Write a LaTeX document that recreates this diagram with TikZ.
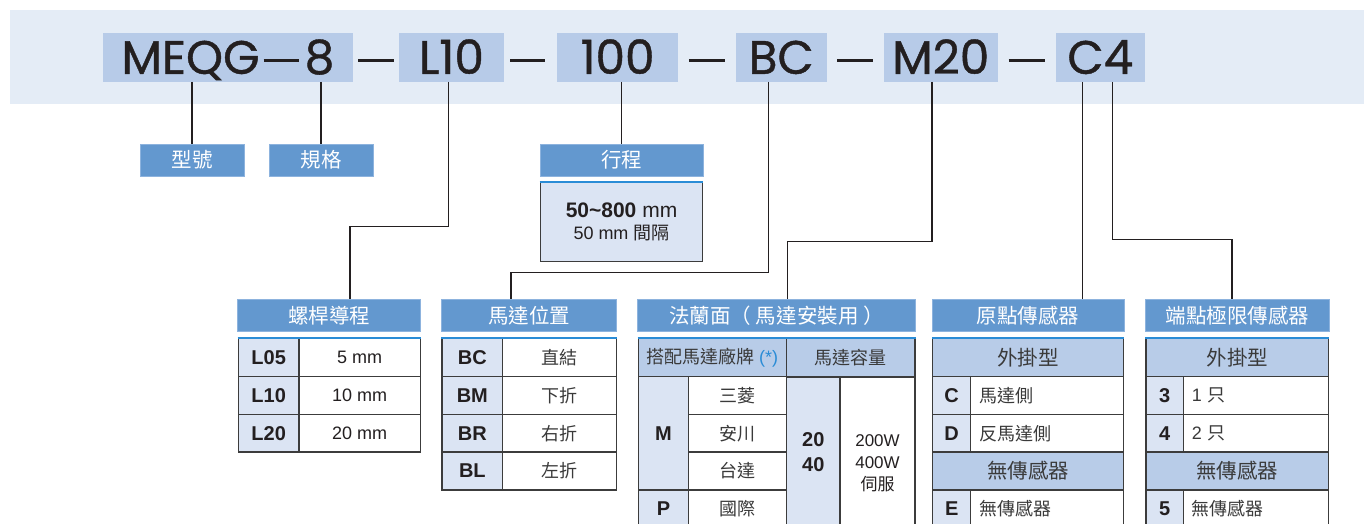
\documentclass[tikz,border=0pt]{standalone}
\usepackage{fontspec}
\setmainfont{Liberation Sans}
\newfontfamily\cjk{Noto Sans CJK TC}
\newfontfamily\partfont{Poppins}[FakeBold=0.9]
\usetikzlibrary{positioning}

\definecolor{bandbg}{HTML}{E4ECF6}
\definecolor{codeblue}{HTML}{B7CBE8}
\definecolor{headblue}{HTML}{6398CF}
\definecolor{headedge}{HTML}{8DB3DE}
\definecolor{keyfill}{HTML}{DBE4F3}
\definecolor{subfill}{HTML}{B8CCE8}
\definecolor{topblue}{HTML}{2A8CD6}
\definecolor{gridline}{HTML}{3C3C3C}
\definecolor{ink}{HTML}{231F20}
\definecolor{graytext}{HTML}{3A3A3A}

\begin{document}
\begin{tikzpicture}[x=1pt,y=-1pt,
  part/.style={fill=codeblue, minimum height=48.7pt, inner sep=0pt, text height=33pt, text depth=0pt, text=ink, font=\partfont\fontsize{47}{47}\selectfont},
  sep/.style={ink, line width=3.6pt},
  head/.style={fill=headblue, draw=headedge, line width=0.6pt, minimum height=32pt, inner sep=0pt, text=white, font=\cjk\fontsize{20.5}{22}\selectfont},
  link/.style={ink, line width=1.2pt},
  cell/.style={draw=gridline, line width=1.3pt, minimum height=37.8pt, inner sep=0pt},
  key/.style={cell, fill=keyfill, text=ink, font=\bfseries\fontsize{20}{22}\selectfont},
  val/.style={cell, fill=white, text=ink, font=\fontsize{18}{20}\selectfont},
  cjkval/.style={cell, fill=white, text=graytext, font=\cjk\fontsize{18}{20}\selectfont},
  leftval/.style={val, inner xsep=8.5pt, align=left},
  sub/.style={cell, fill=subfill, text=graytext, font=\cjk\fontsize{20.5}{22}\selectfont},
  topline/.style={topblue, line width=1.6pt}
]

\useasboundingbox (0,0) rectangle (1364,524);
\clip (0,0) rectangle (1364,524);

% Hintergrund
\fill[bandbg] (10,10) rectangle (1364,104);

% Bestellschluessel
\node[part, minimum width=249.7pt] (cmodel) at (227.9,57.35) {MEQG\kern4pt\rule[11.5pt]{35pt}{3.6pt}\kern6pt 8};
\node[part, minimum width=105pt] (clead) at (451.5,57.35) {L10};
\node[part, minimum width=121pt] (cstroke) at (617.5,57.35) {100};
\node[part, minimum width=90.8pt] (cmount) at (781.2,57.35) {BC};
\node[part, minimum width=113.6pt] (cflange) at (940.8,57.35) {M20};
\node[part, minimum width=88.7pt] (csensor) at (1100.3,57.35) {C4};

% Striche
\draw[sep] ([xshift=5.5pt,yshift=-3.3pt]cmodel.east) -- ++(36,0);
\draw[sep] ([xshift=6pt,yshift=-3.3pt]clead.east) -- ++(35,0);
\draw[sep] ([xshift=10.7pt,yshift=-3.3pt]cstroke.east) -- ++(36,0);
\draw[sep] ([xshift=10.4pt,yshift=-3.3pt]cmount.east) -- ++(36,0);
\draw[sep] ([xshift=10.9pt,yshift=-3.3pt]cflange.east) -- ++(36,0);

% Kopfzeilen
\node[head, minimum width=104pt] (hmodel) at (192,159.85) {型號};
\node[head, minimum width=104pt] (hsize) at (321,159.85) {規格};
\node[head, minimum width=163pt] (hstroke) at (621.5,159.85) {行程};
\node[head, minimum width=183.4pt] (hlead) at (329,315.3) {螺桿導程};
\node[head, minimum width=175.4pt] (hmount) at (529,315.3) {馬達位置};
\node[head, minimum width=278.4pt] (hflange) at (776.5,315.3) {法蘭面（ 馬達安裝用 ）};
\node[head, minimum width=192pt] (hhome) at (1028,315.3) {原點傳感器};
\node[head, minimum width=184pt] (hlimit) at (1237.3,315.3) {端點極限傳感器};

% Hub
\node[cell, fill=keyfill, minimum width=162.4pt, minimum height=79pt, align=center, text=ink,
  font=\fontsize{18}{22.3}\selectfont] (vstroke) at (621.5,222.2)
  {{\fontsize{21}{22.3}\selectfont\textbf{50\textasciitilde800} mm}\\50 mm {\cjk 間隔}};
\draw[topline] (vstroke.north west) -- (vstroke.north east);

% Verbindungslinien
\coordinate (kLead) at (448.7,226.3);
\coordinate (kMount) at (768.2,272.7);
\coordinate (kFlange) at (932,241.7);
\coordinate (kHome) at (1082.7,300);
\coordinate (kLimit) at (1112.8,239.3);
\draw[link] (cmodel.south -| hmodel.north) -- (hmodel.north);
\draw[link] (cmodel.south -| hsize.north) -- (hsize.north);
\draw[link] (cstroke.south -| hstroke.north) -- (hstroke.north);
\draw[link] (clead.south -| kLead) -- (kLead) -| ([xshift=21pt]hlead.north);
\draw[link] (cmount.south -| kMount) -- (kMount) -| ([xshift=-18pt]hmount.north);
\draw[link] (cflange.south -| kFlange) -- (kFlange) -| ([xshift=10.8pt]hflange.north);
\draw[link] (csensor.south -| kHome) -- (hhome.north -| kHome);
\draw[link] (csensor.south -| kLimit) -- (kLimit) -| ([xshift=-5.3pt]hlimit.north);

% Tabelle Steigung
\foreach \k/\v [count=\i] in {L05/5 mm,L10/10 mm,L20/20 mm}{
  \node[key, minimum width=60.7pt] (lk\i) at (268.65,{338.7+37.8*\i-18.9}) {\k};
  \node[val, minimum width=121.3pt] (lv\i) at (359.65,{338.7+37.8*\i-18.9}) {\v};
}
\draw[topline] (lk1.north west) -- (lv1.north east);

% Tabelle Motorlage
\foreach \k/\v [count=\i] in {BC/直結,BM/下折,BR/右折,BL/左折}{
  \node[key, minimum width=60.7pt] (mk\i) at (472.35,{338.7+37.8*\i-18.9}) {\k};
  \node[cjkval, minimum width=113.6pt] (mv\i) at (559.5,{338.7+37.8*\i-18.9}) {\v};
}
\draw[topline] (mk1.north west) -- (mv1.north east);

% Tabelle Flansch
\node[sub, minimum width=148.4pt, font=\cjk\fontsize{18}{20}\selectfont] (fbrand) at (712.5,357.6)
  {搭配馬達廠牌 {\rmfamily\color{topblue}(*)}};
\node[sub, minimum width=128.3pt, font=\cjk\fontsize{18}{20}\selectfont] (fcap) at (850.85,357.6) {馬達容量};
\draw[topline] (fbrand.north west) -- (fcap.north east);
\node[key, minimum width=50.4pt, minimum height=113.4pt] (fm) at (663.5,433.2) {M};
\node[key, minimum width=50.4pt] (fp) at (663.5,508.8) {P};
\foreach \b [count=\i] in {三菱,安川,台達,國際}{
  \node[cjkval, minimum width=98pt] (fb\i) at (737.7,{338.7+37.8*\i+18.9}) {\b};
}
\node[key, minimum width=53.3pt, minimum height=200pt, anchor=north] (fsize) at (813.35,376.5) {};
\node[val, minimum width=75pt, minimum height=200pt, anchor=north] (fwatt) at (877.5,376.5) {};
\node[align=center, text=ink, font=\bfseries\fontsize{20}{25}\selectfont] (fsizetxt) at (813.35,452.5) {20\\40};
\node[align=center, text=ink, font=\fontsize{17}{21.6}\selectfont] (fwatttxt) at (877.5,463.3)
  {200W\\400W\\{\cjk 伺服}};

% Tabelle Origin
\node[sub, minimum width=190.6pt] (os1) at (1028,357.6) {外掛型};
\node[sub, minimum width=190.6pt] (os2) at (1028,471) {無傳感器};
\draw[topline] (os1.north west) -- (os1.north east);
\foreach \k/\v/\y in {C/馬達側/395.4,D/反馬達側/433.2,E/無傳感器/508.8}{
  \node[key, minimum width=38pt] (ok\k) at (951.7,\y) {\k};
  \node[leftval, text width=135.6pt] (ov\k) at (1047,\y) {\cjk\textcolor{graytext}{\v}};
}

% Tabelle Endlage
\node[sub, minimum width=182.7pt] (es1) at (1237.35,357.6) {外掛型};
\node[sub, minimum width=182.7pt] (es2) at (1237.35,471) {無傳感器};
\draw[topline] (es1.north west) -- (es1.north east);
\foreach \k/\v/\y in {3/1 {\cjk 只}/395.4,4/2 {\cjk 只}/433.2,5/{\cjk 無傳感器}/508.8}{
  \node[key, minimum width=37.3pt] (ek\k) at (1164.65,\y) {\k};
  \node[leftval, text width=128.4pt, text=graytext] (ev\k) at (1256,\y) {\v};
}

\end{tikzpicture}
\end{document}
